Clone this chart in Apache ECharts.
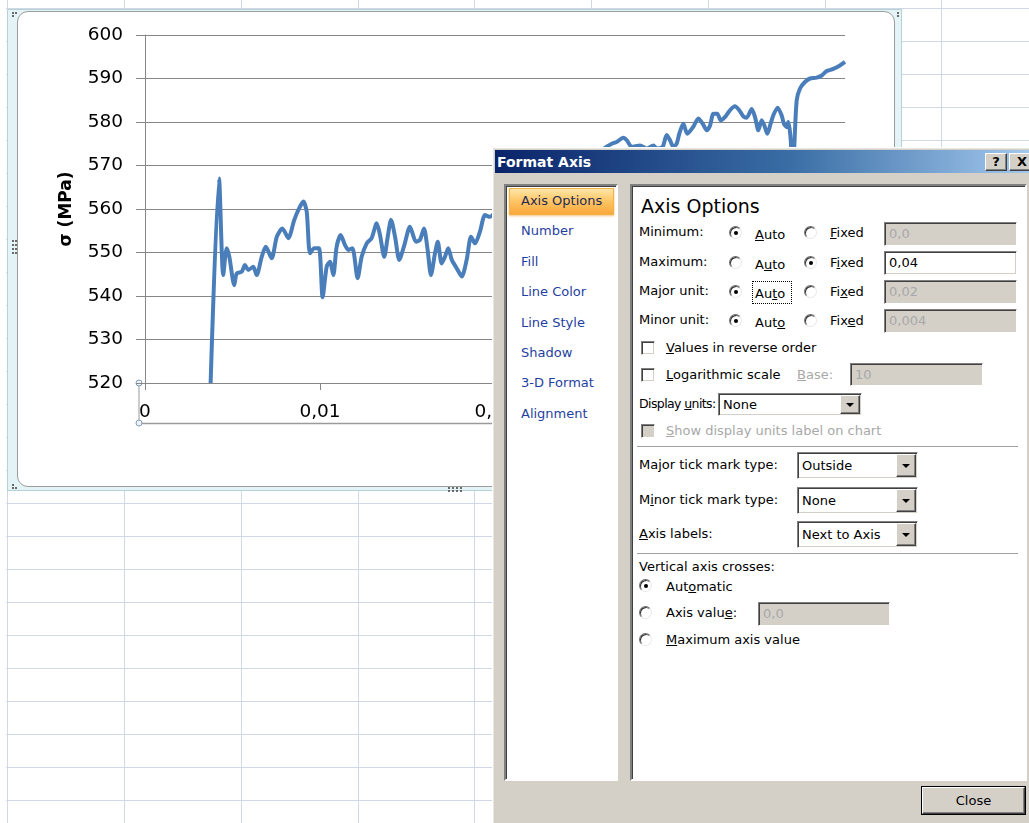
<!DOCTYPE html>
<html>
<head>
<meta charset="utf-8">
<script src="https://cdn.jsdelivr.net/npm/echarts@6/dist/echarts.min.js"></script>
<style>
html,body{margin:0;padding:0;width:1029px;height:823px;overflow:hidden;background:#fff;}
#sheet{position:absolute;left:0;top:0;width:1029px;height:823px;}
.gl{position:absolute;background:#d0d7e5;}
#frame{position:absolute;left:7px;top:9px;width:895px;height:482px;background:#e4f4f6;border:1px solid #b4d2d8;box-sizing:border-box;}
#cbox{position:absolute;left:17px;top:11px;width:878px;height:476px;background:#fff;border:1px solid #9c9c9c;border-radius:11px;box-sizing:border-box;}
.dot{position:absolute;width:2px;height:2px;background:#6a6a6a;}
#chart{position:absolute;left:0;top:0;width:1029px;height:823px;}
#dlg{position:absolute;left:492px;top:147px;width:545px;height:690px;background:#d4d0c8;box-shadow:inset 1px 1px #fff, inset 2px 2px #e8e6e1;font-family:'DejaVu Sans',sans-serif;font-size:13px;color:#000;}
.a{position:absolute;white-space:nowrap;line-height:16px;}
</style>
</head>
<body>
<div id="sheet"></div>
<div id="frame"></div>
<div id="cbox"></div>
<div id="chart"></div>
<div id="dlg"></div>
<script>
// ---- data ----
const strain = [
 0.00375,0.00423,0.00447,0.00467,0.00482,0.00510,0.00524,0.00553,0.00571,0.00590,
 0.00619,0.00638,0.00667,0.00690,0.00724,0.00753,0.00785,0.00819,0.00853,0.00880,
 0.00905,0.00924,0.00943,0.00967,0.00994,0.01015,0.01038,0.01057,0.01076,0.01095,
 0.01118,0.01143,0.01162,0.01185,0.01215,0.01238,0.01267,0.01295,0.01324,0.01343,
 0.01367,0.01387,0.01406,0.01429,0.01453,0.01482,0.01514,0.01549,0.01571,0.01594,
 0.01615,0.01634,0.01657,0.01673,0.01695,0.01714,0.01733,0.01753,0.01781,0.01810,
 0.01838,0.01863,0.01886,0.01914,0.01943,0.01971,0.02030,0.02120,0.02220,0.02320,
 0.02420,0.02520,0.02590,0.02638,0.02667,0.02695,0.02733,0.02753,0.02781,0.02829,
 0.02867,0.02905,0.02924,0.02958,0.02981,0.03000,0.03019,0.03038,0.03053,0.03076,
 0.03099,0.03133,0.03162,0.03187,0.03210,0.03229,0.03248,0.03270,0.03290,0.03314,
 0.03343,0.03371,0.03396,0.03419,0.03438,0.03467,0.03486,0.03505,0.03524,0.03539,
 0.03556,0.03575,0.03590,0.03615,0.03638,0.03651,0.03667,0.03676,0.03690,0.03700,
 0.03711,0.03724,0.03743,0.03771,0.03800,0.03838,0.03867,0.03895,0.03933,0.03971,
 0.04000
];
const stress = [
 520,567,544.8,551,549,542.5,545.2,545.6,547.1,546,
 546.7,544.8,549,551.3,548.7,553.6,555.5,553.3,557.5,560.1,
 561.7,559.4,549.8,551,551,539.7,546.7,547.9,544.8,551.3,
 554,551.7,550.6,551,544.1,549,552.1,553.3,556.7,554,
 549,553.6,557.5,553.6,548.3,551.7,555.9,552.5,552.9,555.5,
 550.6,544.8,549.8,552.5,547.5,549,551,548.3,546.4,544.5,
 548.3,553.6,552.1,554.8,558.6,558.2,561,564,566,568,
 570,572,573,574.3,575,575.4,576.4,575.8,574.3,574.6,
 573.9,574.6,573.9,574.3,577,575.8,574.3,575,577.3,579.6,
 577.3,578.9,580.8,579.6,578.1,579.2,581.9,581.9,580.4,581.1,
 582.7,583.6,582.7,581.3,581,583,581.1,578.1,580.4,579.2,
 577.3,579.6,581.5,583.3,581.5,579.6,578.8,580,575.8,566,
 575,585,587.7,589.2,590,590.2,590.7,591.7,592.2,593,
 593.8
];
const xTicks = [0, 0.01, 0.02, 0.03, 0.04];
const yTicks = [520, 530, 540, 550, 560, 570, 580, 590, 600];
const yTitle = 'σ (MPa)';

// ---- spreadsheet background ----
const sheet = document.getElementById('sheet');
function box(parent, css, html, cls){
  const d = document.createElement('div');
  if (cls) d.className = cls;
  d.style.cssText = css;
  if (html !== undefined) d.innerHTML = html;
  parent.appendChild(d);
  return d;
}
for (let i = 0; i < 9; i++) {
  const x = Math.round(7.3 + 116.75 * i);
  box(sheet, `left:${x}px;top:0;width:1px;height:823px`, undefined, 'gl');
}
for (let i = 0; i < 25; i++) {
  const y = 8 + 33 * i;
  box(sheet, `left:6px;top:${y}px;width:1023px;height:1px`, undefined, 'gl');
}
// selection handles of the chart frame
[[12,240],[12,244],[12,248],[12,252],[15,240],[15,244],[15,248],[15,252],
 [448,487],[452,487],[456,487],[460,487],[448,490],[452,490],[456,490],[460,490],
 [12,12],[15,12],[12,15],[897,12],[897,15],[12,484],[15,487],[12,487]].forEach(p=>{
  box(document.body, `left:${p[0]}px;top:${p[1]}px;z-index:2`, undefined, 'dot');
});

// ---- chart ----
const chart = echarts.init(document.getElementById('chart'), null, {renderer:'canvas'});
const fmtX = v => v === 0 ? '0' : (+v).toFixed(2).replace('.', ',');
chart.setOption({
  backgroundColor: 'transparent',
  animation: false,
  grid: {left:145, top:35, width:700, height:348},
  xAxis: {
    type:'value', min:xTicks[0], max:xTicks[xTicks.length-1], interval:xTicks[1]-xTicks[0],
    axisLine:{show:true, onZero:false, lineStyle:{color:'#868686', width:1}},
    axisTick:{show:true, length:7, lineStyle:{color:'#868686'}},
    splitLine:{show:false},
    axisLabel:{fontFamily:'DejaVu Sans', fontSize:18.5, color:'#000', margin:20, formatter:fmtX}
  },
  yAxis: {
    type:'value', min:yTicks[0], max:yTicks[yTicks.length-1], interval:yTicks[1]-yTicks[0],
    name: yTitle, nameLocation:'middle', nameRotate:90, nameGap:70,
    nameTextStyle:{fontFamily:'DejaVu Sans', fontWeight:'bold', fontSize:17, color:'#000'},
    axisLine:{show:true, lineStyle:{color:'#868686', width:1}},
    axisTick:{show:true, length:9, lineStyle:{color:'#868686'}},
    splitLine:{show:true, lineStyle:{color:'#868686', width:1}},
    axisLabel:{fontFamily:'DejaVu Sans', fontSize:18.5, color:'#000', margin:22}
  },
  series: [{
    type:'line', data: strain.map((x,i)=>[x, stress[i]]),
    showSymbol:false, symbol:'none', smooth:0.25, clip:true,
    lineStyle:{color:'#4A7EBB', width:4}
  }],
  graphic: [
    {type:'line', shape:{x1:139,y1:383,x2:139,y2:423}, style:{stroke:'#9a9a9a', lineWidth:1}},
    {type:'line', shape:{x1:139,y1:423.5,x2:850,y2:423.5}, style:{stroke:'#9a9a9a', lineWidth:1.5}},
    {type:'circle', shape:{cx:139,cy:383,r:3}, style:{stroke:'#7f9cb8', fill:'#eef4f8', lineWidth:1}},
    {type:'circle', shape:{cx:139,cy:423,r:3}, style:{stroke:'#7f9cb8', fill:'#eef4f8', lineWidth:1}}
  ]
});

// ---- Format Axis dialog ----
const D = document.getElementById('dlg');
const OX = 492, OY = 147;
function A(x, y, css, html, cls){ return box(D, `left:${x-OX}px;top:${y-OY}px;` + css, html, cls); }
function T(x, cy, html, css){ return A(x, cy-8, css||'', html, 'a'); }
const sunken = 'border:1px solid;border-color:#808080 #fff #fff #808080;box-shadow:inset 1px 1px #404040, inset -1px -1px #d4d0c8;box-sizing:border-box;';
const raised = 'border:1px solid;border-color:#fff #404040 #404040 #fff;box-shadow:inset -1px -1px #808080;box-sizing:border-box;background:#d4d0c8;';
function radio(cx, cy, on){
  A(cx-7, cy-7, 'position:absolute;width:13px;height:13px;border-radius:50%;background:#fff;border:1px solid;border-color:#6e6e6e #e8e8e8 #e8e8e8 #6e6e6e;box-shadow:inset 1px 1px #303030;box-sizing:border-box;');
  if (on) A(cx-2.5, cy-2.5, 'position:absolute;width:4px;height:4px;border-radius:50%;background:#000;');
}
function check(x, cy, enabled){
  A(x, cy-7, 'position:absolute;width:14px;height:14px;background:' + (enabled ? '#fff' : '#d4d0c8') + ';' + sunken);
}
function tbox(x, y, w, h, txt, enabled){
  A(x, y, `position:absolute;width:${w}px;height:${h}px;background:${enabled?'#fff':'#d4d0c8'};` + sunken +
    `font-size:13px;line-height:${h-2}px;padding-left:4px;color:${enabled?'#000':'#a8a8a8'};`, txt);
}
function dd(x, y, w, h, txt){
  A(x, y, `position:absolute;width:${w}px;height:${h}px;background:#fff;` + sunken +
    `font-size:13px;line-height:${h-2}px;padding-left:4px;`, txt);
  A(x+w-22, y+2, `position:absolute;width:20px;height:${h-4}px;` + raised);
  A(x+w-16, y+h/2-2, 'position:absolute;width:0;height:0;border-left:4px solid transparent;border-right:4px solid transparent;border-top:4px solid #000;');
}
function sep(x1, x2, y){
  A(x1, y, `position:absolute;width:${x2-x1}px;height:1px;background:#a0a0a0;`);
  A(x1, y+1, `position:absolute;width:${x2-x1}px;height:1px;background:#fff;`);
}

// title bar
A(495, 150, 'position:absolute;width:540px;height:23px;background:linear-gradient(to right,#0a246a 0%,#3a6ea5 55%,#a6caf0 100%);');
T(497, 162, 'Format Axis', 'color:#fff;font-weight:bold;font-size:14px;');
A(985, 153, 'position:absolute;width:22px;height:18px;' + raised + 'font-weight:bold;font-size:13px;line-height:15px;text-align:center;', '?');
A(1009, 153, 'position:absolute;width:22px;height:18px;' + raised + 'font-weight:bold;font-size:13px;line-height:15px;text-align:center;padding-left:4px;', 'X');

// left panel
A(504, 184, 'position:absolute;width:114px;height:597px;background:#fff;border:2px solid;border-color:#808080 #fff #fff #808080;box-shadow:inset 1px 1px #404040;box-sizing:border-box;');
A(509, 188, 'position:absolute;width:105px;height:27px;background:linear-gradient(to bottom,#ffe6a8 0%,#ffc768 45%,#f9a83c 100%);border:1px solid #f2b24a;box-sizing:border-box;box-shadow:0 1px 2px #f4c27a;');
T(521, 201, 'Axis Options', 'color:#1f2a55;');
const navItems = [['Number',231],['Fill',262],['Line Color',292],['Line Style',323],['Shadow',353],['3-D Format',383],['Alignment',414]];
navItems.forEach(n => T(521, n[1], n[0], 'color:#1f3fa0;'));

// right panel
A(630, 184, 'position:absolute;width:397px;height:597px;background:#fff;border:2px solid;border-color:#808080 #fff #fff #808080;box-shadow:inset 1px 1px #404040;box-sizing:border-box;');
A(641, 194, 'position:absolute;white-space:nowrap;font-size:19px;line-height:24px;', 'Axis Options');

const rows = [
  ['Minimum:', 232, 0, '<u>A</u>uto', '<u>F</u>ixed', '0,0', false, 222],
  ['Maximum:', 262, 1, 'A<u>u</u>to', 'F<u>i</u>xed', '0,04', true, 251],
  ['Major unit:', 291, 0, 'Au<u>t</u>o', 'Fi<u>x</u>ed', '0,02', false, 280],
  ['Minor unit:', 320, 0, 'Aut<u>o</u>', 'Fix<u>e</u>d', '0,004', false, 309]
];
rows.forEach(r => {
  T(639, r[1], r[0]);
  radio(736, r[1]+1, r[2] === 0);
  T(755, r[1]+3, r[3]);
  radio(811, r[1]+1, r[2] === 1);
  T(830, r[1]+1, r[4]);
  tbox(884, r[7], 133, 24, r[5], r[6]);
});
A(752, 281, 'position:absolute;width:40px;height:23px;border:1px dotted #000;box-sizing:border-box;');

check(641, 348, true);
T(666, 348, '<u>V</u>alues in reverse order');
check(641, 375, true);
T(666, 375, '<u>L</u>ogarithmic scale');
T(797, 375, '<u>B</u>ase:', 'color:#a8a8a8;');
tbox(850, 363, 133, 23, '10', false);
T(639, 404, 'Display <u>u</u>nits:', 'font-size:12.5px;letter-spacing:-0.6px;');
dd(718, 393, 144, 23, 'None');
check(641, 431, false);
T(666, 431, '<u>S</u>how display units label on chart', 'color:#a8a8a8;');
sep(637, 1018, 446);
T(639, 465, 'Ma<u>j</u>or tick mark type:');
dd(797, 452, 121, 27, 'Outside');
T(639, 500, 'M<u>i</u>nor tick mark type:');
dd(797, 487, 121, 27, 'None');
T(639, 534, '<u>A</u>xis labels:');
dd(797, 521, 121, 27, 'Next to Axis');
sep(637, 1018, 553);
T(639, 567, 'Vertical axis crosses:');
radio(646, 586, true);
T(666, 587, 'Aut<u>o</u>matic');
radio(646, 613, false);
T(666, 613, 'Axis valu<u>e</u>:');
tbox(758, 602, 132, 24, '0,0', false);
radio(646, 640, false);
T(666, 640, '<u>M</u>aximum axis value');

// close button
A(921, 786, 'position:absolute;width:105px;height:29px;border:1px solid #000;box-sizing:border-box;background:#d4d0c8;');
A(922, 787, 'position:absolute;width:103px;height:27px;' + raised + 'text-align:center;line-height:25px;font-size:13px;', 'Close');
</script>
</body>
</html>
